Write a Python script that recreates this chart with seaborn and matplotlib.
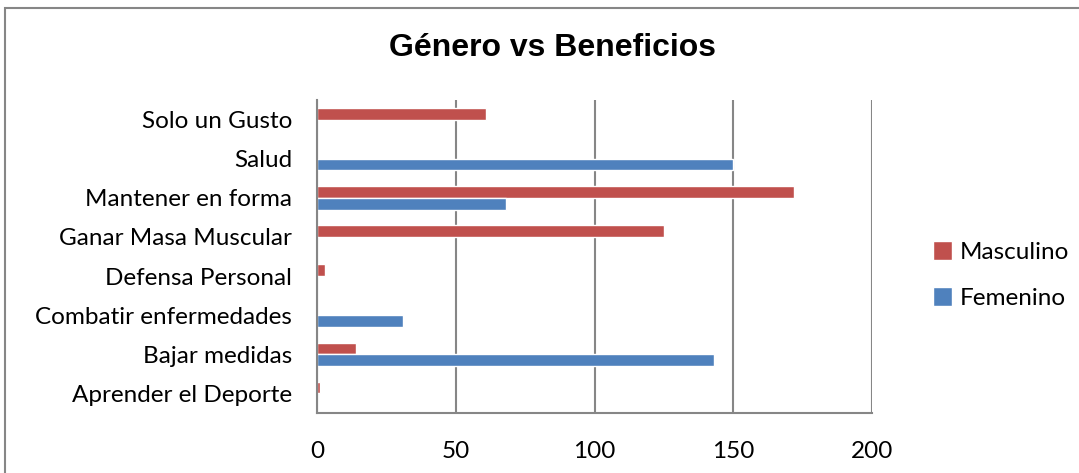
import matplotlib
matplotlib.use("Agg")
import matplotlib.pyplot as plt
import seaborn as sns
import pandas as pd
from matplotlib.patches import Rectangle

categories = ["Solo un Gusto", "Salud", "Mantener en forma", "Ganar Masa Muscular",
              "Defensa Personal", "Combatir enfermedades", "Bajar medidas",
              "Aprender el Deporte"]
masculino = [61, 0, 172, 125, 3, 0, 14, 1]
femenino = [0, 150, 68, 0, 0, 31, 143, 0]
series = ["Masculino", "Femenino"]
colors = ["#C0504D", "#4F81BD"]
x_ticks = [0, 50, 100, 150, 200]

df = pd.DataFrame({
    "Beneficio": categories * 2,
    "Género": [series[0]] * len(categories) + [series[1]] * len(categories),
    "Cantidad": masculino + femenino,
})

sns.set_theme(style="white")
plt.rcParams["font.family"] = ["Lato", "DejaVu Sans"]
plt.rcParams["text.color"] = "black"

fig = plt.figure(figsize=(10.79, 4.73), dpi=100)
ax = fig.add_axes([0.2938, 0.1268, 0.8082 - 0.2938, 0.7886 - 0.1268])

# outer chart frame
fig.patches.append(Rectangle((5 / 1079, -0.1), 1.2, 1 - 8 / 473 + 0.1,
                             transform=fig.transFigure, fill=False,
                             edgecolor="#868686", linewidth=1.5))

sns.barplot(data=df, y="Beneficio", x="Cantidad", hue="Género",
            hue_order=series, order=categories, palette=colors,
            orient="h", width=0.6, ax=ax, saturation=1, legend=True)

ax.set_xlim(0, 200)
ax.set_xticks(x_ticks)
ax.xaxis.grid(True, color="#868686", linewidth=1.5)
ax.set_axisbelow(True)
ax.set_xlabel("")
ax.set_ylabel("")
for s in ["top", "right"]:
    ax.spines[s].set_visible(False)
for s in ["left", "bottom"]:
    ax.spines[s].set_color("#868686")
    ax.spines[s].set_linewidth(1.5)
ax.tick_params(axis="x", length=0, pad=20, labelsize=17.5, colors="black")
ax.tick_params(axis="y", length=0, pad=18, labelsize=17.5, colors="black")

fig.text(0.512, 0.898, "Género vs Beneficios", ha="center", va="center",
         fontsize=23, fontweight="bold", color="black",
         family=["Liberation Sans", "DejaVu Sans"])

leg = ax.legend(loc="center left", bbox_to_anchor=(1.07, 0.44), frameon=False,
                fontsize=17.5, handlelength=0.8, handleheight=0.8,
                handletextpad=0.3, labelspacing=1.0)

fig.savefig("out.png", dpi=100)
